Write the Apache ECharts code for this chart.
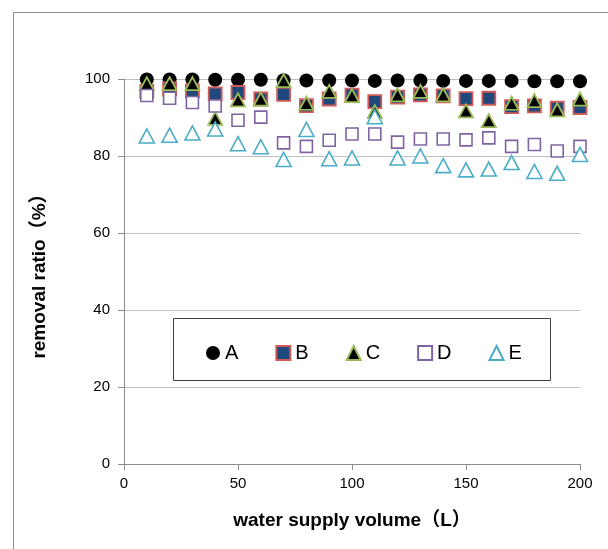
<!DOCTYPE html>
<html>
<head>
<meta charset="utf-8">
<script src="https://cdn.jsdelivr.net/npm/echarts@6/dist/echarts.min.js"></script>
<style>html,body{margin:0;padding:0;background:#fff}#c{width:608px;height:549px}</style>
</head>
<body>
<div id="c"></div>
<script>
const volumes = [10,20,30,40,50,60,70,80,90,100,110,120,130,140,150,160,170,180,190,200];
const seriesA = [99.9,99.9,99.9,99.8,99.8,99.8,99.7,99.6,99.6,99.6,99.5,99.6,99.6,99.5,99.5,99.5,99.5,99.4,99.4,99.4];
const seriesB = [96.8,97.4,96.9,96.1,96.5,94.8,96.0,93.1,94.8,95.8,94.1,95.3,95.9,95.6,94.9,95.0,92.8,93.0,92.4,92.6];
const seriesC = [98.8,98.8,98.8,89.8,94.6,94.8,99.6,93.7,96.8,95.7,91.5,95.9,96.8,95.9,91.7,89.2,93.7,94.4,92.0,94.8];
const seriesD = [95.7,95.0,93.9,93.0,89.3,90.1,83.4,82.5,84.1,85.7,85.7,83.6,84.4,84.4,84.2,84.7,82.5,83.0,81.3,82.5];
const seriesE = [85.2,85.4,86.0,87.0,83.2,82.4,79.1,86.9,79.3,79.5,90.2,79.5,80.0,77.5,76.4,76.6,78.3,76.0,75.5,80.4];
const yTicks = [0,20,40,60,80,100];
const xTicks = [0,50,100,150,200];

const FONT = '"Liberation Sans","Noto Sans CJK SC",sans-serif';
const pair = arr => arr.map((v,i)=>[volumes[i], v]);

const chart = echarts.init(document.getElementById('c'), null, {renderer:'canvas'});
chart.setOption({
  animation:false,
  backgroundColor:'#fff',
  graphic:[
    {type:'rect', shape:{x:13.5,y:12.5,width:620,height:560}, style:{fill:'none',stroke:'#8c8c8c',lineWidth:1}, z:-1},
    {type:'rect', shape:{x:173.5,y:318.5,width:377,height:62}, style:{fill:'#fff',stroke:'#404040',lineWidth:1}, z:5}
  ],
  grid:{left:124, right:28, top:79, bottom:85},
  xAxis:{
    type:'value', min:0, max:200, interval:50,
    name:'water supply volume（L）', nameLocation:'middle', nameGap:47,
    nameTextStyle:{fontFamily:FONT, fontSize:19, fontWeight:'bold', color:'#000'},
    axisLine:{show:true, lineStyle:{color:'#8c8c8c'}},
    axisTick:{show:true, length:6, inside:false, lineStyle:{color:'#8c8c8c'}},
    axisLabel:{fontFamily:FONT, fontSize:15, color:'#000', margin:12,
      formatter:v=>xTicks.includes(v)?String(v):''},
    splitLine:{show:false}
  },
  yAxis:{
    type:'value', min:0, max:100, interval:20,
    name:'removal ratio（%）', nameLocation:'middle', nameGap:75,
    nameTextStyle:{fontFamily:FONT, fontSize:19, fontWeight:'bold', color:'#000'},
    axisLine:{show:true, lineStyle:{color:'#8c8c8c'}},
    axisTick:{show:true, length:6, inside:false, lineStyle:{color:'#8c8c8c'}},
    axisLabel:{fontFamily:FONT, fontSize:15, color:'#000', margin:14,
      formatter:v=>yTicks.includes(v)?String(v):''},
    splitLine:{show:true, lineStyle:{color:'#bfbfbf', width:1}}
  },
  legend:{
    left:201, top:338, itemWidth:14, itemHeight:14, itemGap:37,
    textStyle:{fontFamily:FONT, fontSize:20, color:'#000'},
    z:10,
    data:['A','B','C','D','E']
  },
  series:[
    {name:'A', type:'scatter', data:pair(seriesA), symbol:'circle', symbolSize:14,
      itemStyle:{color:'#000', borderColor:'#000', borderWidth:0, opacity:1}},
    {name:'B', type:'scatter', data:pair(seriesB), symbol:'rect', symbolSize:13,
      itemStyle:{color:'#1f497d', borderColor:'#d05a57', borderWidth:1.8, opacity:1}},
    {name:'C', type:'scatter', data:pair(seriesC), symbol:'triangle', symbolSize:[14,13],
      itemStyle:{color:'#000', borderColor:'#9bbb59', borderWidth:1.8, opacity:1}},
    {name:'D', type:'scatter', data:pair(seriesD), symbol:'rect', symbolSize:12,
      itemStyle:{color:'#fff', borderColor:'#8064a2', borderWidth:1.6, opacity:1}},
    {name:'E', type:'scatter', data:pair(seriesE), symbol:'triangle', symbolSize:[15,14],
      itemStyle:{color:'#fff', borderColor:'#4bacc6', borderWidth:1.6, opacity:1}}
  ]
});
</script>
</body>
</html>
